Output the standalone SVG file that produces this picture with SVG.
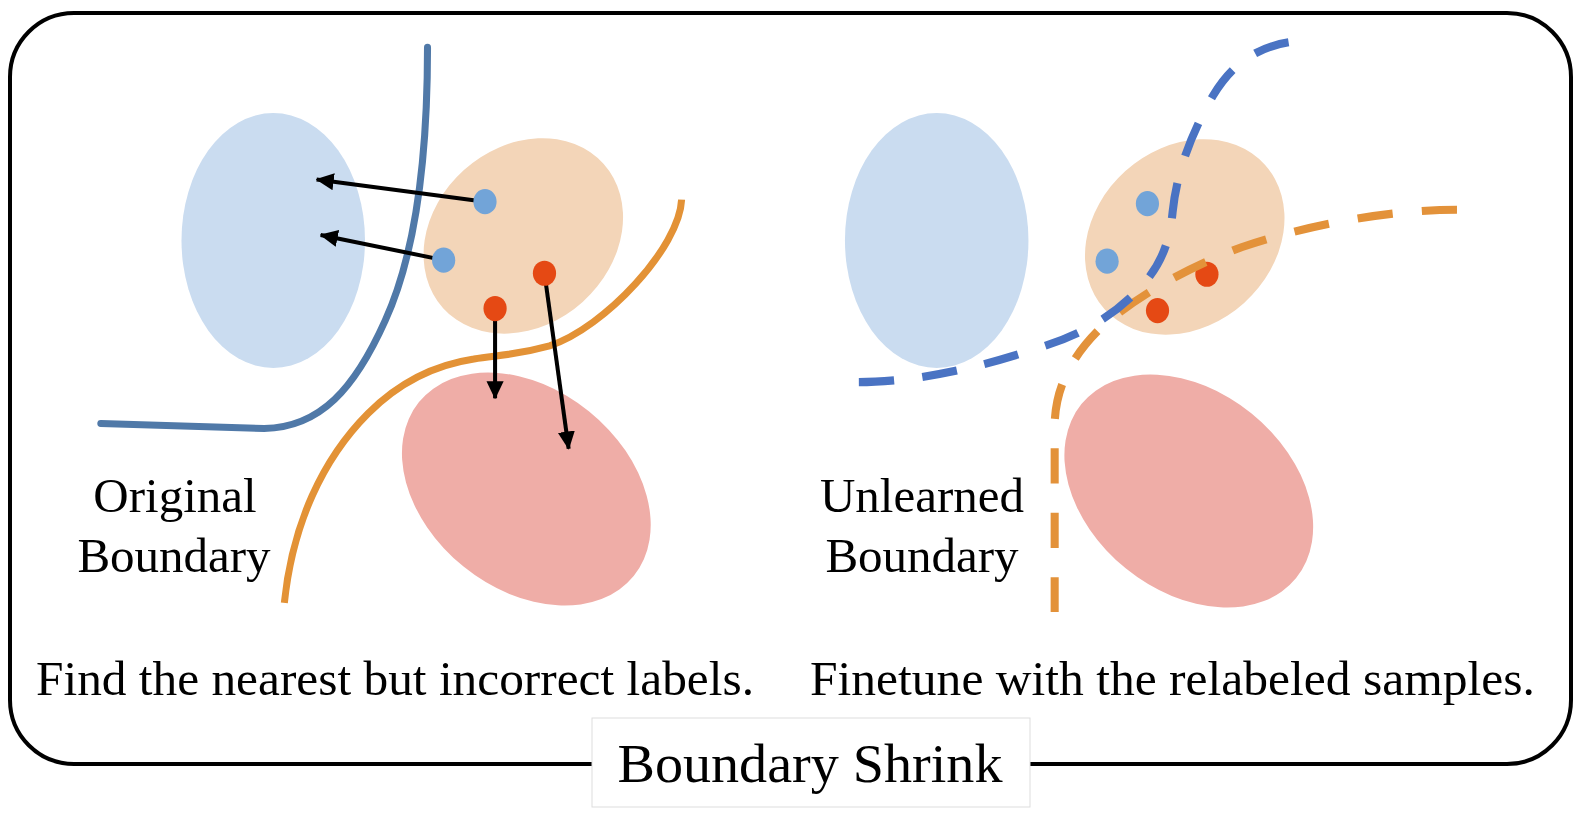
<svg xmlns="http://www.w3.org/2000/svg" width="1581" height="814" viewBox="0 0 1581 814">
<style>
.lt{font-family:"Liberation Serif","Times New Roman",serif;fill:#000}
.cb{fill:#CADCF0}.cp{fill:#F3D5B8}.cr{fill:#EFADA7}
.db{fill:#72A4D8}.dr{fill:#E54914}
.sb{fill:none;stroke:#5079A8;stroke-width:7;stroke-linecap:round}
.so{fill:none;stroke:#E39236;stroke-width:7}
.kb{fill:none;stroke:#4A73C3;stroke-width:8;stroke-dasharray:35 28}
.ko{fill:none;stroke:#E3923A;stroke-width:8;stroke-dasharray:35 29}
.ar{fill:none;stroke:#000;stroke-width:4;marker-end:url(#ah)}
</style>
<defs>
<marker id="ah" markerUnits="userSpaceOnUse" markerWidth="18" markerHeight="17" refX="17" refY="8.5" orient="auto">
<path d="M0,0 L18,8.5 L0,17 z" fill="#000"/>
</marker>
</defs>
<rect width="1581" height="814" fill="#fff"/>
<rect id="frame" x="10" y="13" width="1561" height="751" rx="64" ry="64" fill="none" stroke="#000" stroke-width="4"/>
<g transform="scale(1.00829)">
<g id="left-panel">
<ellipse id="l-blue" class="cb" cx="271" cy="238.5" rx="91" ry="126.5"/>
<ellipse id="l-peach" class="cp" cx="519" cy="234" rx="107" ry="88" transform="rotate(-42 519 234)"/>
<ellipse id="l-pink" class="cr" cx="522" cy="485" rx="137" ry="99" transform="rotate(39 522 485)"/>
<g id="l-boundaries">
<path class="sb" d="M424,47 C424,150 413,250 382,318 C352,385 318,424 262,425 L100,420"/>
<path class="so" d="M676,198 C674,245 600,325 545,343 C505,354 490,352 470,356 C430,362 395,380 365,410 C320,455 290,520 282,598"/>
</g>
<g id="connectors">
<line class="ar" x1="481" y1="200" x2="314" y2="178"/>
<line class="ar" x1="440" y1="258" x2="318" y2="233"/>
<line class="ar" x1="491" y1="306" x2="491" y2="395"/>
<line class="ar" x1="540" y1="271" x2="564" y2="445"/>
</g>
<g id="l-dots">
<ellipse class="db" cx="481" cy="200" rx="11.5" ry="12.5"/>
<ellipse class="db" cx="440" cy="258" rx="11.5" ry="12.5"/>
<ellipse class="dr" cx="540" cy="271" rx="11.5" ry="12.5"/>
<ellipse class="dr" cx="491" cy="306" rx="11.5" ry="12.5"/>
</g>
</g>
<g id="right-panel">
<ellipse id="r-blue" class="cb" cx="929" cy="238.5" rx="91" ry="126.5"/>
<ellipse id="r-peach" class="cp" cx="1175" cy="235" rx="107" ry="88" transform="rotate(-42 1175 235)"/>
<ellipse id="r-pink" class="cr" cx="1179" cy="487" rx="137" ry="99" transform="rotate(39 1179 487)"/>
<g id="r-dots">
<ellipse class="db" cx="1138" cy="202" rx="11.5" ry="12.5"/>
<ellipse class="db" cx="1098" cy="259" rx="11.5" ry="12.5"/>
<ellipse class="dr" cx="1197" cy="272" rx="11.5" ry="12.5"/>
<ellipse class="dr" cx="1148" cy="308" rx="11.5" ry="12.5"/>
</g>
<g id="r-boundaries">
<path class="ko" d="M1445,208 C1380,208 1300,222 1232,245 C1172,267 1122,298 1092,325 C1062,354 1047,385 1046,420 L1046,607"/>
<path class="kb" d="M1278,42 C1240,48 1218,70 1203,95 C1180,135 1167,172 1163,210 C1160,240 1152,262 1132,284 C1105,314 1070,333 1030,345 C985,360 945,370 900,376 C880,378 865,379 850,379"/>
</g>
</g>
</g>
<g id="labels">
<text class="lt" x="175" y="512" font-size="49" text-anchor="middle">Original</text>
<text class="lt" x="174" y="572" font-size="49" text-anchor="middle">Boundary</text>
<text class="lt" x="922" y="512" font-size="49" text-anchor="middle">Unlearned</text>
<text class="lt" x="922" y="572" font-size="49" text-anchor="middle">Boundary</text>
<text class="lt" x="36" y="695" font-size="49" textLength="718" lengthAdjust="spacingAndGlyphs">Find the nearest but incorrect labels.</text>
<text class="lt" x="810" y="695" font-size="49" textLength="725" lengthAdjust="spacingAndGlyphs">Finetune with the relabeled samples.</text>
</g>
<g id="title">
<rect x="592" y="718" width="438" height="89" fill="#fff" stroke="#DDDDDD" stroke-width="1"/>
<text class="lt" x="810" y="782" font-size="55" text-anchor="middle" textLength="385" lengthAdjust="spacingAndGlyphs">Boundary Shrink</text>
</g>
</svg>
